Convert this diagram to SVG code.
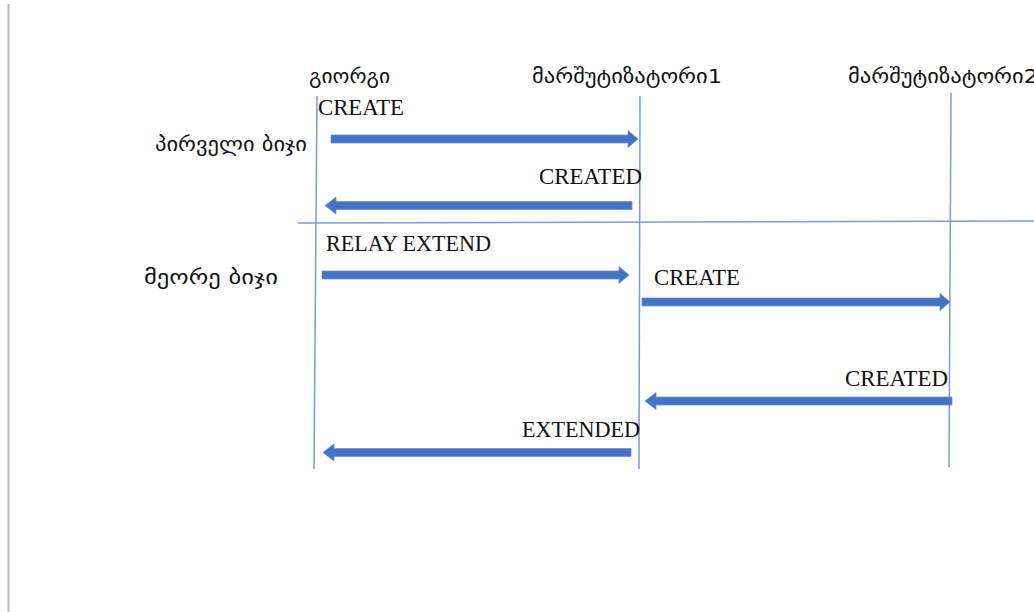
<svg xmlns="http://www.w3.org/2000/svg" width="1034" height="612" viewBox="0 0 1034 612">
<style>
.life{stroke:#7A9BD6;stroke-width:1.5;fill:none}
.sep{stroke:#7A9BD6;stroke-width:1.5;fill:none}
.arr{fill:#4472C4;stroke:#6C8FD0;stroke-width:0.8}
.geo{font-family:"DejaVu Sans","Noto Sans",sans-serif;font-size:20px;fill:#111}
.msg{font-family:"Liberation Serif","Times New Roman",serif;font-size:23px;fill:#111}
</style>
<rect width="1034" height="612" fill="#fff"/>
<line x1="8.5" y1="4" x2="8.5" y2="612" stroke="#B8BCC2" stroke-width="2"/>
<g id="lane-giorgi">
<line class="life" x1="317" y1="96" x2="314" y2="469"/>
<text class="geo" x="309" y="83" textLength="81" lengthAdjust="spacingAndGlyphs">გიორგი</text>
</g>
<g id="lane-router1">
<line class="life" x1="640" y1="96" x2="639" y2="469"/>
<text class="geo" x="532" y="83" textLength="190" lengthAdjust="spacingAndGlyphs">მარშუტიზატორი1</text>
</g>
<g id="lane-router2">
<line class="life" x1="951" y1="93" x2="949" y2="467"/>
<text class="geo" x="848" y="83" textLength="190" lengthAdjust="spacingAndGlyphs">მარშუტიზატორი2</text>
</g>
<g id="step1">
<text class="geo" x="155" y="151" textLength="152" lengthAdjust="spacingAndGlyphs">პირველი ბიჯი</text>
</g>
<g id="step2">
<text class="geo" x="144" y="284" textLength="134" lengthAdjust="spacingAndGlyphs">მეორე ბიჯი</text>
</g>
<g id="separator">
<line class="sep" x1="298" y1="223" x2="1034" y2="221"/>
</g>
<g id="connectors">
<path class="arr" d="M331 135 L628 135 L628 130.5 L638 139 L628 147.5 L628 143 L331 143 Z"/>
<text class="msg" x="318" y="115" textLength="86" lengthAdjust="spacingAndGlyphs">CREATE</text>
<path class="arr" d="M632 201.5 L336 201.5 L336 197 L325 205.5 L336 214 L336 209.5 L632 209.5 Z"/>
<text class="msg" x="539" y="184" textLength="103" lengthAdjust="spacingAndGlyphs">CREATED</text>
<path class="arr" d="M322 271 L619 271 L619 266.5 L629 275 L619 283.5 L619 279 L322 279 Z"/>
<text class="msg" x="326" y="251" textLength="165" lengthAdjust="spacingAndGlyphs">RELAY EXTEND</text>
<path class="arr" d="M642 298 L940 298 L940 293.5 L950 302 L940 310.5 L940 306 L642 306 Z"/>
<text class="msg" x="654" y="285" textLength="86" lengthAdjust="spacingAndGlyphs">CREATE</text>
<path class="arr" d="M952 397 L656 397 L656 392.5 L645 401 L656 409.5 L656 405 L952 405 Z"/>
<text class="msg" x="845" y="386" textLength="103" lengthAdjust="spacingAndGlyphs">CREATED</text>
<path class="arr" d="M631 448.5 L334 448.5 L334 444 L323 452.5 L334 461 L334 456.5 L631 456.5 Z"/>
<text class="msg" x="522" y="437" textLength="118" lengthAdjust="spacingAndGlyphs">EXTENDED</text>
</g>
</svg>
